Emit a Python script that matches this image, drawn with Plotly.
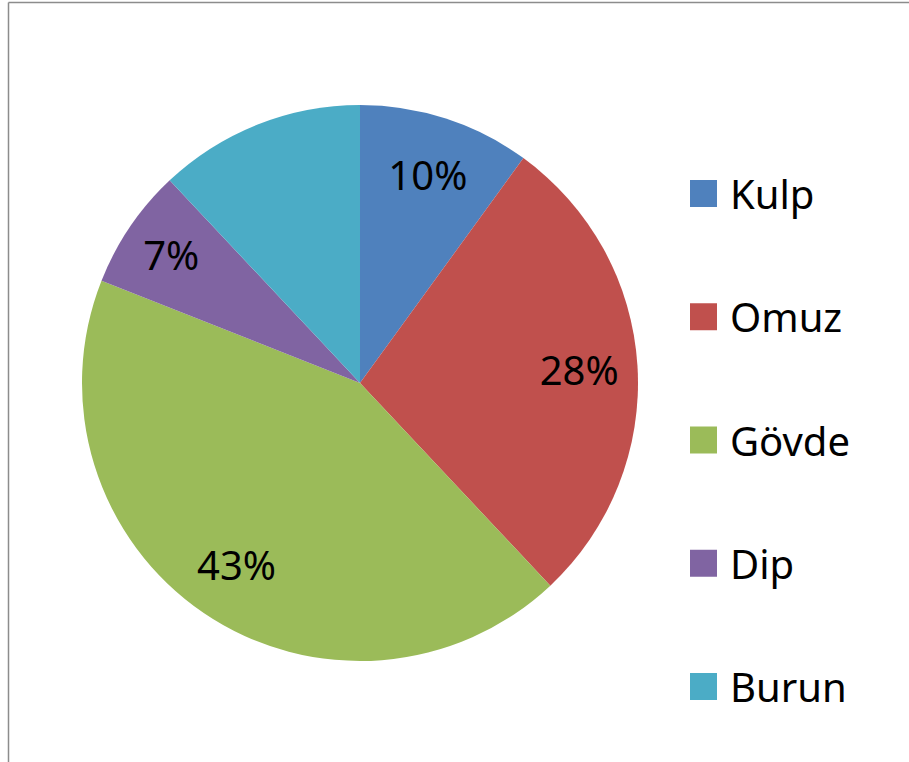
import plotly.graph_objects as go

# Share of sherds by vessel part
parts = ["Kulp", "Omuz", "Gövde", "Dip", "Burun"]
shares = [10, 28, 43, 7, 12]
show_label = [True, True, True, True, False]
colors = ["#4F81BD", "#C0504D", "#9BBB59", "#8064A2", "#4BACC6"]

W, H = 909, 762
cx, cy, R = 360, 383, 278  # pie centre and radius in pixels

def px_x(x):
    return x / W

def px_y(y):
    return 1 - y / H

FONT = "Noto Sans"
domain = dict(x=[px_x(cx - R), px_x(cx + R)], y=[px_y(cy + R), px_y(cy - R)])

fig = go.Figure()

# the filled pie
fig.add_trace(go.Pie(
    labels=parts,
    values=shares,
    sort=False,
    direction="clockwise",
    rotation=0,
    marker=dict(colors=colors, line=dict(width=0)),
    textinfo="none",
    domain=domain,
    showlegend=False,
    hoverinfo="label+percent",
))

# transparent ring on top carrying the percentage labels toward the rim
fig.add_trace(go.Pie(
    labels=parts,
    values=shares,
    sort=False,
    direction="clockwise",
    rotation=0,
    hole=0.58,
    marker=dict(colors=["rgba(0,0,0,0)"] * len(parts), line=dict(width=0)),
    texttemplate=["%{percent:.0%}" if s else "" for s in show_label],
    textposition="inside",
    insidetextorientation="horizontal",
    textfont=dict(family=FONT, size=40, color="black"),
    domain=domain,
    showlegend=False,
    hoverinfo="skip",
))

shapes = [
    # chart frame
    dict(type="line", xref="paper", yref="paper", x0=px_x(8.5), x1=px_x(8.5), y0=px_y(2.5), y1=px_y(H),
         line=dict(color="#8c8c8c", width=1.5)),
    dict(type="line", xref="paper", yref="paper", x0=px_x(8.5), x1=px_x(W), y0=px_y(2.5), y1=px_y(2.5),
         line=dict(color="#8c8c8c", width=1.5)),
]
annotations = []

# legend: square swatch + label per part
leg_x0, leg_size, leg_y0, leg_step = 690, 27, 193.5, 123.25
for i, (name, col) in enumerate(zip(parts, colors)):
    yc = leg_y0 + i * leg_step
    shapes.append(dict(type="rect", xref="paper", yref="paper",
                       x0=px_x(leg_x0), x1=px_x(leg_x0 + leg_size),
                       y0=px_y(yc + leg_size / 2), y1=px_y(yc - leg_size / 2),
                       fillcolor=col, line=dict(width=0)))
    annotations.append(dict(xref="paper", yref="paper", x=px_x(728), y=px_y(yc),
                            xanchor="left", yanchor="middle", showarrow=False,
                            text=name, font=dict(family=FONT, size=40, color="black")))

fig.update_layout(
    width=W, height=H,
    margin=dict(l=0, r=0, t=0, b=0),
    paper_bgcolor="white",
    plot_bgcolor="white",
    shapes=shapes,
    annotations=annotations,
)

fig.write_html("out.html")
